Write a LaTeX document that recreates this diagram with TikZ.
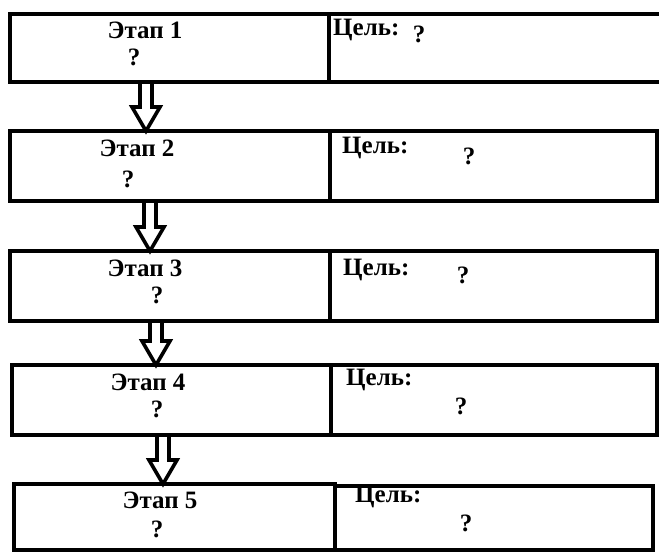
\documentclass[tikz,border=0pt]{standalone}
\usepackage{fontspec}
\setmainfont{Liberation Serif}
\usetikzlibrary{calc}

\newcommand{\hollowarrow}[3]{%
  \draw[hollow] let \p1=(#1), \p2=(#2.south), \p3=(#3.north) in
    (\x1-6pt,\y2) -- (\x1-6pt,\y3+24pt) -- (\x1-14pt,\y3+24pt) -- (\x1,\y3)
    -- (\x1+14pt,\y3+24pt) -- (\x1+6pt,\y3+24pt) -- (\x1+6pt,\y2);
}

\begin{document}
\begin{tikzpicture}[x=1pt, y=-1pt,
    cell/.style={draw, line width=3.8pt, anchor=north west, inner sep=0pt, outer sep=0pt},
    lbl/.style={font=\fontsize{25}{25}\selectfont\bfseries, inner sep=0pt},
    hollow/.style={draw, line width=3.6pt, miter limit=20}]
    \useasboundingbox (0,0) rectangle (659,554);
    \node[cell, minimum width=319pt, minimum height=68pt] (s1) at (10,14) {};
    \node[cell, minimum width=340pt, minimum height=68pt] (g1) at (329,14) {};
    \node[cell, minimum width=320pt, minimum height=70pt] (s2) at (10,131) {};
    \node[cell, minimum width=327pt, minimum height=70pt] (g2) at (330,131) {};
    \node[cell, minimum width=320pt, minimum height=70pt] (s3) at (10,251) {};
    \node[cell, minimum width=327pt, minimum height=70pt] (g3) at (330,251) {};
    \node[cell, minimum width=319pt, minimum height=70pt] (s4) at (12,365) {};
    \node[cell, minimum width=326pt, minimum height=70pt] (g4) at (331,365) {};
    \node[cell, minimum width=321pt, minimum height=66pt] (s5) at (14,484) {};
    \node[cell, minimum width=318pt, minimum height=64pt] (g5) at (335,486) {};
    \node[lbl] (t1) at (145,30) {Этап 1};
    \node[lbl] (q1) at (134,57) {?};
    \node[lbl, anchor=west] (c1) at (333,30) {Цель:};
    \node[lbl] (r1) at (419,34) {?};
    \node[lbl] (t2) at (137,148) {Этап 2};
    \node[lbl] (q2) at (128,179) {?};
    \node[lbl, anchor=west] (c2) at (342,148) {Цель:};
    \node[lbl] (r2) at (469,156) {?};
    \node[lbl] (t3) at (145,268) {Этап 3};
    \node[lbl] (q3) at (157,295) {?};
    \node[lbl, anchor=west] (c3) at (343,270) {Цель:};
    \node[lbl] (r3) at (463,275) {?};
    \node[lbl] (t4) at (148,382) {Этап 4};
    \node[lbl] (q4) at (157,409) {?};
    \node[lbl, anchor=west] (c4) at (346,380) {Цель:};
    \node[lbl] (r4) at (461,406) {?};
    \node[lbl] (t5) at (160,500) {Этап 5};
    \node[lbl] (q5) at (157,529) {?};
    \node[lbl, anchor=west] (c5) at (355,497) {Цель:};
    \node[lbl] (r5) at (466,523) {?};
    \coordinate (x1) at (146,0);
    \coordinate (x2) at (150,0);
    \coordinate (x3) at (156,0);
    \coordinate (x4) at (163,0);
    \hollowarrow{x1}{s1}{s2}
    \hollowarrow{x2}{s2}{s3}
    \hollowarrow{x3}{s3}{s4}
    \hollowarrow{x4}{s4}{s5}
\end{tikzpicture}
\end{document}
